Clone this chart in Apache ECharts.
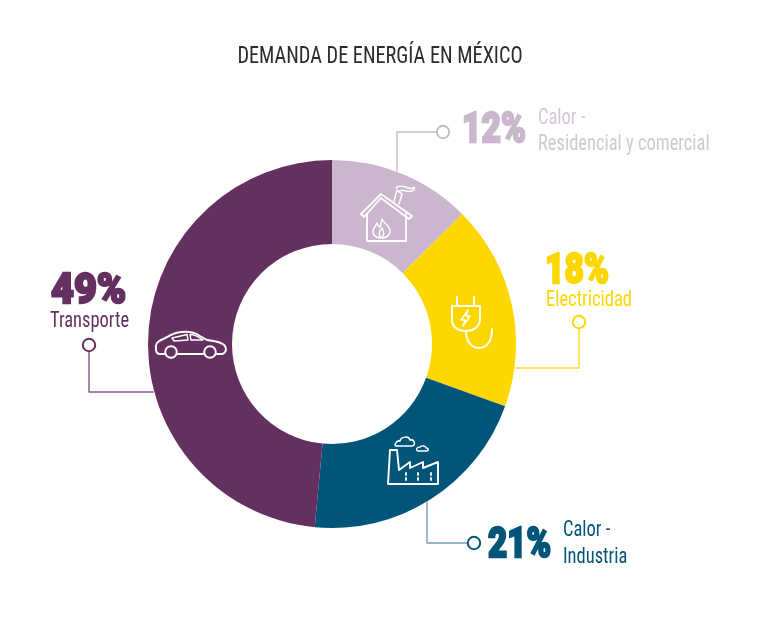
<!DOCTYPE html>
<html><head><meta charset="utf-8">
<style>html,body{margin:0;padding:0;background:#fff}#c{width:760px;height:644px}</style>
<script src="https://cdn.jsdelivr.net/npm/echarts@6/dist/echarts.min.js"></script>
</head><body><div id="c"></div>
<script>
const titleText = 'DEMANDA DE ENERGÍA EN MÉXICO';
const categories = ['Calor - Residencial y comercial','Electricidad','Calor - Industria','Transporte'];
const sliceValues = [12.5,18,21,48.5];
// percentages as printed in the labels
const printedValues = [12,18,21,49];
const colors = ['#cbb7cd','#ffd700','#005578','#64305f'];
const textColors = ['#d5c5d8','#ffd700','#005578','#64305f'];
const bigColors = ['#cbb7cd','#ffd700','#005578','#64305f'];
const lineColors = ['#cbb7cd','#ffd92e','#6fa0b6','#84588a'];
const labelFont = '"Liberation Sans Narrow","Roboto Condensed",Roboto,sans-serif';
const bigFont = 'Roboto,sans-serif';

const chart = echarts.init(document.getElementById('c'));

const W = '#ffffff';
function stroke(d, color, w){
  return {type:'path', shape:{pathData:d}, style:{fill:'none', stroke:color, lineWidth:w, lineJoin:'round', lineCap:'round'}};
}
function dot(x,y,color){
  return {type:'circle', shape:{cx:x,cy:y,r:6.2}, style:{fill:'#fff', stroke:color, lineWidth:2}};
}
function txt(x,y,s,size,color,sx,extra){
  return {type:'text', x:x, y:y, scaleX:sx||0.84, style:Object.assign({text:s, fontFamily:labelFont, fontSize:size, fill:color, verticalAlign:'middle'}, extra||{})};
}
function annotations(){
  const kids = [];
  kids.push({type:'text',x:380,y:57,scaleX:0.845,style:{text:titleText,fontFamily:labelFont,fontSize:24,fill:'#2e2a2b',align:'center',verticalAlign:'middle'}});
  kids.push(stroke('M397 171 L397 132 L437 132', lineColors[0], 1.4), dot(443,132,lineColors[0]));
  kids.push(stroke('M516 368 L579 368 L579 328', lineColors[1], 1.4), dot(579,322,'#ffd700'));
  kids.push(stroke('M427 502 L427 543 L468 543', lineColors[2], 1.4), dot(474,543,'#005578'));
  kids.push(stroke('M153 392 L89 392 L89 352', lineColors[3], 1.4), dot(89,345,'#64305f'));
  const bigLabel = (x,y,i,sx)=>({type:'text',x:x,y:y,scaleX:sx,style:{text:printedValues[i]+'%',fontFamily:bigFont,fontWeight:900,fontSize:43,fill:bigColors[i],stroke:bigColors[i],lineWidth:2.4,verticalAlign:'middle'}});
  kids.push(bigLabel(462,131,0,0.78), bigLabel(545,272,1,0.78), bigLabel(488,546,2,0.77), bigLabel(51,292,3,0.92));
  kids.push(txt(538,118,'Calor -',22,textColors[0]));
  kids.push(txt(538,144,'Residencial y comercial',22,textColors[0]));
  kids.push(txt(546,300,categories[1],22,textColors[1]));
  kids.push(txt(563,530,'Calor -',22,textColors[2]));
  kids.push(txt(563,557,'Industria',22,textColors[2]));
  kids.push(txt(50,321,categories[3],22,textColors[3]));
  // car icon
  kids.push(stroke('M164 354 L160 354 C157 354 156 352 156 349 C155 344 157 342 161 340 C168 337 172 333.5 178 332.5 C186 331 194 332 200 336 L207 340 C215 341 222 342 225 346 C227 349 226 353 222 354 L217 354 M203 354 L178 354', W, 2));
  kids.push({type:'circle',shape:{cx:171,cy:352,r:5.8},style:{fill:'none',stroke:W,lineWidth:2}});
  kids.push({type:'circle',shape:{cx:210,cy:352,r:5.8},style:{fill:'none',stroke:W,lineWidth:2}});
  kids.push(stroke('M172 338 L187 334.5 L188 340 L174 341 Z M190 334.5 C195 334.5 199 337 203 340 L191 340 Z', W, 1.4));
  // house icon
  kids.push(stroke('M361 214 L381 194 L412 216 L409 219 L381 198 L364 217 Z', W, 1.8));
  kids.push(stroke('M367 214 L367 241 L406 241 L406 214', W, 1.8));
  kids.push(stroke('M394 201 L397 190 L402 194 L399 204', W, 1.5));
  kids.push(stroke('M396 188 C399 184 405 187 408 188 C411 189 414 188 414 187 C416 191 410 192 406 191 C403 190 400 190 399 192', W, 1.4));
  kids.push(stroke('M382 219 C384 224 391 226 390 232 C389 237 384 238 381 238 C376 238 372 235 373 230 C374 227 376 226 377 223 C378 226 379 227 380 227 C381 225 381 222 382 219 Z M381 238 C378 234 379 231 382 228 C384 232 385 235 381 238', W, 1.4));
  // plug icon
  kids.push(stroke('M457 297 L457 306 M474 297 L474 306 M452 306 L480 306 L480 319 C480 327 473 331 466 331 C458 331 452 327 452 319 Z', W, 1.9));
  kids.push(stroke('M466 331 C466 342 472 348 479 348 C487 348 492 341 492 329', W, 1.9));
  kids.push(stroke('M468 310 L461 320 L465 320 L463 326 L470 316 L466 316 Z', W, 1.4));
  // factory icon
  kids.push(stroke('M388 484 L390 450 L397 450 L399 470 L410 462 L410 468 L423 462 L423 468 L438 462 L438 484 Z', W, 1.9));
  kids.push(stroke('M397 446 C393 447 396 440 400 441 C401 436 409 436 410 440 C415 439 416 446 412 446 Z', W, 1.5));
  kids.push(stroke('M418 451 C415 450 417 447 420 447 C422 445 426 446 426 448 C429 448 429 451 426 451 Z', W, 1.4));
  ['M406 473 L406 475 M406 478 L406 480','M418 473 L418 475 M418 478 L418 480','M431 473 L431 475 M431 478 L431 480'].forEach(d=>kids.push(stroke(d,W,1.8)));
  return kids;
}

chart.setOption({
  animation:false,
  backgroundColor:'#ffffff',
  series:[
    {type:'pie',center:[332,344],radius:[100,184],startAngle:90,clockwise:true,silent:true,
     label:{show:false},labelLine:{show:false},
     data:categories.map((c,i)=>({name:c,value:sliceValues[i],itemStyle:{color:colors[i]}}))},
    {type:'custom',coordinateSystem:'none',silent:true,z:10,data:[0],
     renderItem:()=>({type:'group',children:annotations()})}
  ]
});
</script></body></html>
